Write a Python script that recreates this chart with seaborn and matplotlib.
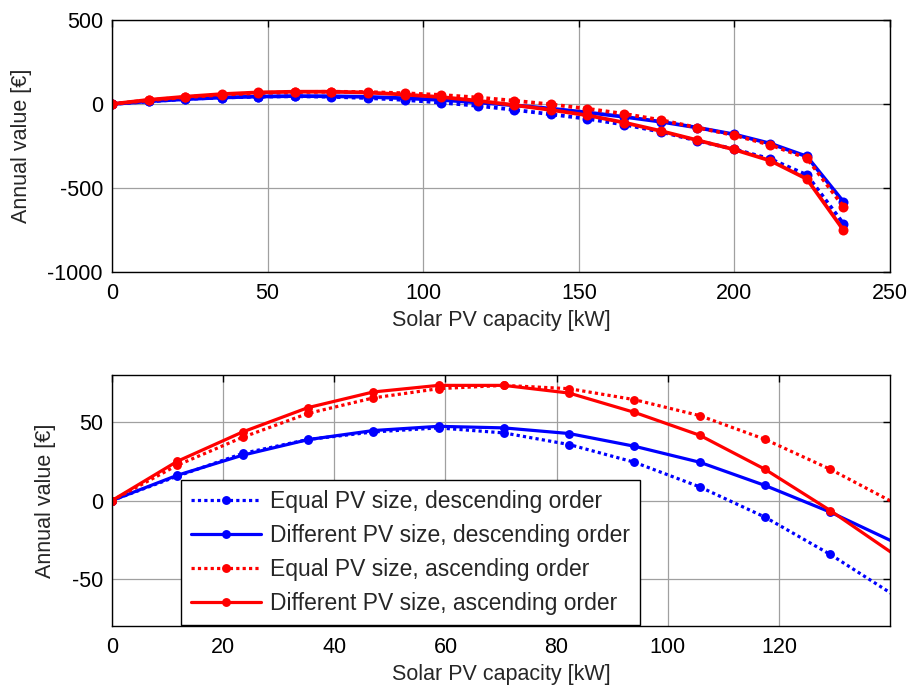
import matplotlib
matplotlib.use('Agg')
import matplotlib.pyplot as plt
import seaborn as sns
import pandas as pd

# PV capacity steps [kW]
capacity = [0, 11.75, 23.5, 35.25, 47, 58.75, 70.5, 82.25, 94, 105.75, 117.5,
            129.25, 141, 152.75, 164.5, 176.25, 188, 199.75, 211.5, 223.25, 235]

# Annual value [EUR] per scenario
equal_desc = [0, 15.5, 30, 38.9, 43.7, 46.3, 43.1, 35.7, 24.4, 8.7, -10.6,
              -34.4, -61, -88, -122, -165, -218, -268, -327, -422, -712]
diff_desc = [0, 16.1, 28.9, 38.8, 44.6, 47.3, 46.3, 42.7, 34.6, 24.4, 9.6,
             -7.4, -27, -50, -76, -105, -140, -180, -235, -312, -582]
equal_asc = [0, 22.5, 40.3, 55.5, 65.4, 71.3, 73.4, 71.3, 64.3, 54.1, 39.0,
             19.9, -2, -28, -58, -95, -140, -185, -243, -322, -610]
diff_asc = [0, 25.0, 43.7, 59.2, 69.2, 73.4, 73.4, 68.5, 56.2, 41.6, 19.9,
            -6.4, -35, -67, -110, -160, -215, -270, -337, -446, -750]

labels = ['Equal PV size, descending order',
          'Different PV size, descending order',
          'Equal PV size, ascending order',
          'Different PV size, ascending order']
series = [equal_desc, diff_desc, equal_asc, diff_asc]
colors = ['#0000ff', '#0000ff', '#ff0000', '#ff0000']
styles = [(0, (1, 1)), '-', (0, (1, 1)), '-']

sns.set_style('white')
plt.rcParams['font.family'] = ['Liberation Sans', 'DejaVu Sans']
plt.rcParams['font.size'] = 15.5
plt.rcParams['axes.unicode_minus'] = False

df = pd.DataFrame({'capacity': capacity})
for lab, vals in zip(labels, series):
    df[lab] = vals

fig = plt.figure(figsize=(9.09, 6.89), dpi=100)
ax_top = fig.add_axes([0.1232, 0.6052, 0.856, 0.3657])
ax_bot = fig.add_axes([0.1232, 0.0914, 0.856, 0.3643])


def draw(ax, lw, ms):
    for lab, col, ls in zip(labels, colors, styles):
        sns.lineplot(data=df, x='capacity', y=lab, ax=ax, color=col,
                     linestyle=ls, linewidth=lw, marker='o', markersize=ms,
                     markeredgewidth=0, label=lab, legend=False)
    ax.grid(True, color='#a0a0a0', linewidth=0.9)
    ax.set_axisbelow(True)
    ax.tick_params(direction='in', length=5, width=1, top=True, right=True,
                   labelsize=15.5, colors='black')
    ax.tick_params(axis='x', pad=8)
    ax.tick_params(axis='y', pad=6.5)
    for sp in ax.spines.values():
        sp.set_color('black')
        sp.set_linewidth(1)
    ax.set_xlabel('Solar PV capacity [kW]', fontsize=15.5, labelpad=4)
    ax.set_ylabel('Annual value [€]', fontsize=15.5, labelpad=11)


draw(ax_top, 2.7, 7.2)
ax_top.set_xlim(0, 250)
ax_top.set_ylim(-1000, 500)
ax_top.set_xticks([0, 50, 100, 150, 200, 250])
ax_top.set_yticks([-1000, -500, 0, 500])

draw(ax_bot, 2.3, 6.4)
ax_bot.set_xlim(0, 140)
ax_bot.set_ylim(-80, 80)
ax_bot.set_xticks([0, 20, 40, 60, 80, 100, 120])
ax_bot.set_yticks([-50, 0, 50])

leg = ax_bot.legend(loc='lower left', bbox_to_anchor=(0.0887, 0.006),
                    fontsize=16.5, frameon=True, fancybox=False, framealpha=1,
                    edgecolor='black', handlelength=3.05, handletextpad=0.41,
                    labelspacing=0.48, borderpad=0.42, borderaxespad=0)
leg.get_frame().set_linewidth(1)

fig.savefig('out.png', dpi=100)
